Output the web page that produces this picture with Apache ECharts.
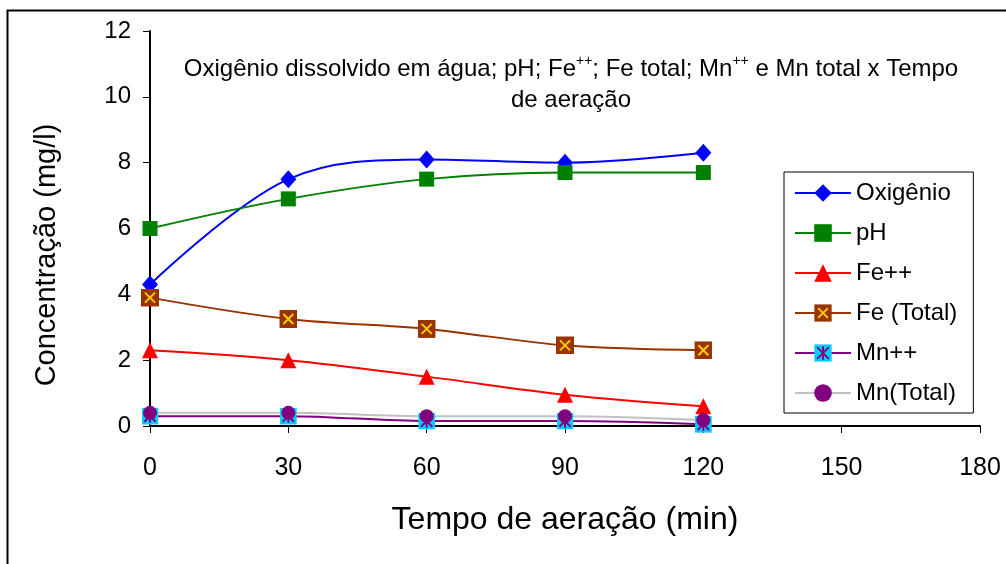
<!DOCTYPE html>
<html>
<head>
<meta charset="utf-8">
<script src="https://cdn.jsdelivr.net/npm/echarts@6/dist/echarts.min.js"></script>
<style>
html,body{margin:0;padding:0;background:#fff;}
#c{width:1006px;height:564px;}
</style>
</head>
<body>
<div id="c"></div>
<script>
var times = [0, 30, 60, 90, 120];
var oxigenio = [4.3, 7.5, 8.1, 8.0, 8.3];
var ph = [6.0, 6.9, 7.5, 7.7, 7.7];
var feMais = [2.3, 2.0, 1.5, 0.95, 0.6];
var feTotal = [3.9, 3.25, 2.95, 2.45, 2.3];
var mnMais = [0.3, 0.3, 0.15, 0.15, 0.05];
var mnTotal = [0.4, 0.4, 0.3, 0.3, 0.18];
var xTicks = [0, 30, 60, 90, 120, 150, 180];
var yTicks = [0, 2, 4, 6, 8, 10, 12];
var seriesNames = ['Oxigênio', 'pH', 'Fe++', 'Fe (Total)', 'Mn++', 'Mn(Total)'];

function pairs(vals) { return times.map(function (t, i) { return [t, vals[i]]; }); }
function svgUri(s) { return 'image://data:image/svg+xml;charset=utf-8,' + encodeURIComponent(s); }

var feSym = svgUri("<svg xmlns='http://www.w3.org/2000/svg' width='18' height='18' viewBox='0 0 18 18'><rect width='18' height='18' fill='#993300'/><path d='M4 4L14 14M14 4L4 14' stroke='#FFCC00' stroke-width='2'/></svg>");
var mnSym = svgUri("<svg xmlns='http://www.w3.org/2000/svg' width='18' height='18' viewBox='0 0 18 18'><rect width='18' height='18' fill='#00CCFF'/><path d='M9 2L9 16M3 3L15 15M15 3L3 15' stroke='#800080' stroke-width='2'/></svg>");

var FONT = '"Liberation Sans", Arial, sans-serif';
var chart = echarts.init(document.getElementById('c'));

function lineSeries(name, data, color, symbol, size, extra) {
  var s = {
    name: name, type: 'line', data: pairs(data), smooth: 0.35,
    symbol: symbol, symbolSize: size, showSymbol: true,
    lineStyle: { color: color, width: 2 },
    itemStyle: { color: color },
    emphasis: { disabled: true }
  };
  if (extra) { for (var k in extra) s[k] = extra[k]; }
  return s;
}

chart.setOption({
  animation: false,
  backgroundColor: '#fff',
  textStyle: { fontFamily: FONT },
  graphic: [{
    type: 'rect', left: 5, top: 8, z: -1,
    shape: { width: 1100, height: 700 },
    style: { fill: 'none', stroke: '#000', lineWidth: 2 }
  }, {
    type: 'text', x: 47, y: 255, rotation: Math.PI / 2,
    style: { text: 'Concentração (mg/l)', fontFamily: FONT, fontSize: 29, fill: '#000',
      align: 'center', verticalAlign: 'middle' }
  }],
  title: {
    text: 'Oxigênio dissolvido em água; pH; Fe{sup|++}; Fe total; Mn{sup|++} e Mn total x Tempo\nde aeração',
    left: 566, top: 49, textAlign: 'center',
    textStyle: {
      fontFamily: FONT, fontSize: 24, fontWeight: 'normal', color: '#000', lineHeight: 31,
      rich: { sup: { fontSize: 14, fontFamily: FONT, color: '#000', verticalAlign: 'top', lineHeight: 24 } }
    }
  },
  legend: {
    orient: 'vertical', left: 784, top: 172,
    padding: [9, 16, 8, 10],
    itemWidth: 56, itemHeight: 22, itemGap: 16,
    backgroundColor: '#fff', borderColor: '#000', borderWidth: 1,
    textStyle: { fontFamily: FONT, fontSize: 24, color: '#000' },
    data: seriesNames
  },
  grid: { left: 150, right: 26, top: 31, bottom: 138, containLabel: false },
  xAxis: {
    type: 'value', min: 0, max: 180, interval: 30,
    name: 'Tempo de aeração (min)', nameLocation: 'middle', nameGap: 78,
    nameTextStyle: { fontFamily: FONT, fontSize: 32, color: '#000' },
    axisLine: { lineStyle: { color: '#000', width: 2 } },
    axisTick: { show: true, length: 7, lineStyle: { color: '#000', width: 1 } },
    axisLabel: { margin: 30, fontFamily: FONT, fontSize: 25, color: '#000',
      formatter: function (v) { return xTicks.indexOf(v) >= 0 ? String(v) : ''; } },
    splitLine: { show: false }
  },
  yAxis: {
    type: 'value', min: 0, max: 12, interval: 2,
    axisLine: { show: true, lineStyle: { color: '#000', width: 2 } },
    axisTick: { show: true, length: 7, lineStyle: { color: '#000', width: 1 } },
    axisLabel: { margin: 19, fontFamily: FONT, fontSize: 24, color: '#000',
      formatter: function (v) { return yTicks.indexOf(v) >= 0 ? String(v) : ''; } },
    splitLine: { show: false }
  },
  series: [
    lineSeries(seriesNames[0], oxigenio, '#0000FF', 'diamond', [16, 18]),
    lineSeries(seriesNames[1], ph, '#008000', 'rect', 15),
    lineSeries(seriesNames[2], feMais, '#FF0000', 'triangle', 16),
    lineSeries(seriesNames[3], feTotal, '#993300', feSym, 18),
    lineSeries(seriesNames[4], mnMais, '#800080', mnSym, 17),
    lineSeries(seriesNames[5], mnTotal, '#C0C0C0', 'circle', 14, { itemStyle: { color: '#800080' } })
  ]
});
</script>
</body>
</html>
